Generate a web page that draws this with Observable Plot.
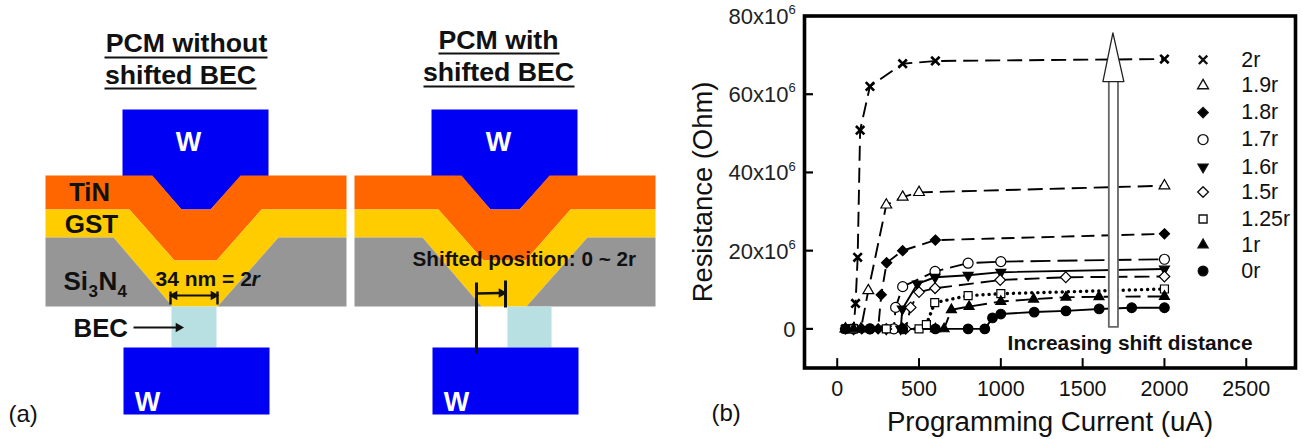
<!DOCTYPE html>
<html><head><meta charset="utf-8">
<script src="https://cdn.jsdelivr.net/npm/d3@7"></script>
<script src="https://cdn.jsdelivr.net/npm/@observablehq/plot@0.6"></script>
<style>
html,body{margin:0;padding:0;background:#fff}
#wrap{position:relative;width:1302px;height:439px;overflow:hidden}
#wrap svg{position:absolute;top:0;background:transparent}
</style></head><body><div id="wrap"></div>
<script>
// ---- Panel (b): programming current (uA) and resistance (1e6 Ohm) per shift
const I_2r=[50,100,112,125,140,200,400,600,2000];
const R_2r=[0,0.1,6.5,18.3,50.8,62,67.8,68.5,69];
const I_19r=[50,100,145,190,300,400,500,2000];
const R_19r=[0,0,0,9.8,31.7,33.7,34.9,36.6];
const I_18r=[50,150,250,269,302,400,600,2000];
const R_18r=[0,0,0,8.7,16.9,20,22.7,24.3];
const I_17r=[100,200,346,357,400,598,800,1000,2000];
const R_17r=[0,0,0,5.5,10.8,14.7,16.8,17.2,17.8];
const I_16r=[100,300,388,398,490,598,800,1000,2000];
const R_16r=[0,0,0,5.1,11.5,13.2,13.7,14.5,15.3];
const I_15r=[100,300,418,449,500,598,996,1397,2000];
const R_15r=[0,0,0,5.5,9.4,10.4,12.5,13.2,13.4];
const I_125r=[100,300,500,545,596,800,1000,2000];
const R_125r=[0,0,0,1.1,6.7,8.5,9,10.2];
const I_1r=[100,400,600,653,698,806,1000,1200,1398,1600,2000];
const R_1r=[0,0,0,0,4.9,5.7,7,7.6,8.1,8.2,8.3];
const I_0r=[50,200,400,600,800,902,949,1000,1204,1398,1601,1800,2000];
const R_0r=[0,0,0,0,0,0,2.8,3.8,4.3,4.6,5.1,5.4,5.4];
const seriesNames=["2r","1.9r","1.8r","1.7r","1.6r","1.5r","1.25r","1r","0r"];
const seriesX=[I_2r,I_19r,I_18r,I_17r,I_16r,I_15r,I_125r,I_1r,I_0r];
const seriesY=[R_2r,R_19r,R_18r,R_17r,R_16r,R_15r,R_125r,R_1r,R_0r];
const symbols=["times","triangle","diamond2","circle","triangle","diamond2","square","triangle","circle"];
const rotations=[0,0,0,0,180,0,0,0,0];
const fills=["none","#fff","#000","#fff","#000","#fff","#fff","#000","#000"];
const radii=[3.9,4,4.6,5,3.7,4.8,4.5,3.7,4.8];
const dashes=["15 7","15 7","13 7","20 7","none","15 7","0.1 6","15 7","none"];
const legendY=[68.8,62.2,55.3,48.4,41.4,35,28.1,21.5,14.8];
const xTicks=[0,500,1000,1500,2000,2500];
const yTicks=[0,20,40,60,80];
const shaftX=[1660,1660,1716,1716];
const shaftY=[63.2,0.5,0.5,63.2];
const headX=[1624,1685,1752,1624];
const headY=[63.2,75.7,63.2,63.2];

const table=seriesNames.map((name,i)=>seriesX[i].map((x,j)=>({name,x,y:seriesY[i][j]})));

const chart=Plot.plot({
  width:642,height:439,marginLeft:144,marginRight:7,marginTop:15.5,marginBottom:71.5,
  style:{fontFamily:"Liberation Sans",background:"transparent",color:"#000"},
  x:{domain:[-200,2801],axis:null},
  y:{domain:[-10,80],axis:null},
  marks:[
    Plot.ruleY(yTicks,{x1:-200,x2:-145,stroke:"#000",strokeWidth:2.2}),
    Plot.ruleX(xTicks,{y1:-10,y2:-7.6,stroke:"#000",strokeWidth:2}),
    ...table.map((rows,i)=>Plot.line(rows,{x:"x",y:"y",stroke:"#000",strokeWidth:i==6?3.4:1.9,strokeDasharray:dashes[i],strokeLinecap:i==6?"round":"butt"})),
    ...table.map((rows,i)=>Plot.dot(rows,{x:"x",y:"y",symbol:symbols[i],rotate:rotations[i],r:radii[i],fill:fills[i],stroke:"#000",strokeWidth:i==0?2.6:1.2})),
    Plot.line(shaftX.map((x,i)=>[x,shaftY[i]]),{x:d=>d[0],y:d=>d[1],fill:"#fff",stroke:"#666",strokeWidth:1.8}),
    Plot.line(headX.map((x,i)=>[x,headY[i]]),{x:d=>d[0],y:d=>d[1],fill:"#fff",stroke:"#222",strokeWidth:1.3}),
    Plot.frame({stroke:"#000",strokeWidth:3.6}),
    Plot.axisX({ticks:xTicks,tickSize:0,tickPadding:13,label:null,fontSize:21.5,fill:"#111",tickFormat:d=>String(d)}),
    Plot.text(yTicks.filter(d=>d!==0),{x:-200,y:d=>d,text:d=>`${d}x10`,dx:-16,dy:1,textAnchor:"end",fontSize:22,fill:"#222"}),
    Plot.text(yTicks.filter(d=>d!==0),{x:-200,y:d=>d,text:()=>"6",dx:-16,dy:-6,textAnchor:"start",fontSize:13,fill:"#222"}),
    Plot.text([0],{x:-200,y:d=>d,text:d=>String(d),dx:-9,dy:1,textAnchor:"end",fontSize:22,fill:"#222"}),
    Plot.text(["Increasing shift distance"],{x:1790,y:-3.8,fontWeight:"bold",fontSize:20.9,textAnchor:"middle",fill:"#111"}),
    ...seriesNames.map((n,i)=>Plot.dot([[2236,legendY[i]]],{x:d=>d[0],y:d=>d[1],symbol:symbols[i],rotate:rotations[i],r:radii[i],fill:fills[i],stroke:"#111",strokeWidth:i==0?2.4:1.4})),
    Plot.text(seriesNames,{x:2470,y:(d,i)=>legendY[i],text:d=>d,textAnchor:"start",fontSize:21.4,fill:"#111"}),
    Plot.text(["Programming Current (uA)"],{frameAnchor:"bottom",dy:62.5,lineAnchor:"bottom",textAnchor:"middle",fontSize:27.7,fill:"#111"}),
    Plot.text(["Resistance (Ohm)"],{frameAnchor:"left",rotate:-90,dx:-101,textAnchor:"middle",fontSize:27.4,fill:"#111"}),
    Plot.text(["(b)"],{frameAnchor:"bottom-left",dx:-93,dy:53,lineAnchor:"bottom",textAnchor:"start",fontSize:24,fill:"#111"})
  ]
});

// ---- Panel (a): schematic cross-sections, coordinates in schematic units
const shift=309;
const tinPoly=[[45,175],[152,175],[181,209],[210,209],[240,175],[346,175],[346,209],[261,209],[216,260],[174,260],[129,209],[45,209]];
const gstPoly=[[45,209],[129,209],[174,260],[216,260],[261,209],[346,209],[346,237],[278,237],[217,306],[172,306],[113,237],[45,237]];
const siLeftPoly=[[45,237],[113,237],[172,306],[45,306]];
const siRightPoly=[[278,237],[346,237],[346,306],[217,306]];
const topWPoly=[[122,109],[268,109],[268,176],[240,176],[210,209],[181,209],[152,176],[122,176]];
const botWPoly=[[123,347],[269,347],[269,414],[123,414]];
const becLeft=[[171,306],[216,306],[216,347],[171,347]];
const becRight=[[507,306],[551,306],[551,347],[507,347]];
const move=p=>p.map(([x,y])=>[x+shift,y]);
const polygons=[
 [topWPoly,"#0000f5"],[tinPoly,"#ff6600"],[gstPoly,"#ffcc00"],[siLeftPoly,"#969696"],[siRightPoly,"#969696"],[becLeft,"#b8e0e3"],[botWPoly,"#0000f5"],
 [move(topWPoly),"#0000f5"],[move(tinPoly),"#ff6600"],[move(gstPoly),"#ffcc00"],[move(siLeftPoly),"#969696"],[move(siRightPoly),"#969696"],[becRight,"#b8e0e3"],[move(botWPoly),"#0000f5"]
];
// segments: x1,y1,x2,y2,width
const segments=[
 [104,57,267,57,1.8],[104,88,256,88,1.8],[438,53,559,53,1.8],[423,86,574,86,1.8],
 [170,295,217,295,2.2],[170,291,170,304,2.4],[217,291,217,304,2.4],
 [133,327,176,327,2.2],
 [476,282,476,353,3],[505,280,505,307,3],[476,293,500,292.5,2.4]
];
const arrowHeads=[[174,295,-90],[213,295,90],[178,327,90],[501,292.5,90]];
// labels: text,x,y,size,bold,color,anchor,italic
const labels=[
 ["PCM without",186,51,26.7,1,"#111","middle"],["shifted BEC",180,83,26.7,1,"#111","middle"],
 ["PCM with",498,48,26.7,1,"#111","middle"],["shifted BEC",498,80,26.7,1,"#111","middle"],
 ["W",188,150,27,1,"#fff","middle"],["W",147,410,27,1,"#fff","middle"],["W",498,150,27,1,"#fff","middle"],["W",456,410,27,1,"#fff","middle"],
 ["TiN",89,200,25.6,1,"#111","middle"],["GST",91,232,26,1,"#111","middle"],
 ["Si",63,289,26,1,"#111","start"],["3",88,296,17,1,"#111","start"],["N",98,289,26,1,"#111","start"],["4",117,296,17,1,"#111","start"],
 ["34 nm = 2",155,285,21,1,"#111","start"],["r",251,285,21,1,"#111","start",1],
 ["BEC",73,336,25.8,1,"#111","start"],
 ["Shifted position: 0 ~ 2r",412,265,20.7,1,"#111","start"],
 ["(a)",8,421,24,0,"#111","start"]
];
const diagram=Plot.plot({
  width:660,height:439,margin:0,
  style:{fontFamily:"Liberation Sans",background:"transparent"},
  x:{domain:[0,660],range:[0,660],axis:null},
  y:{domain:[0,439],range:[0,439],axis:null},
  marks:[
    ...polygons.map(([pts,c])=>Plot.line(pts,{x:d=>d[0],y:d=>d[1],fill:c,stroke:"none"})),
    Plot.link(segments,{x1:d=>d[0],y1:d=>d[1],x2:d=>d[2],y2:d=>d[3],strokeWidth:d=>d[4],stroke:"#111",strokeLinecap:"butt"}),
    ...arrowHeads.map(a=>Plot.dot([a],{x:d=>d[0],y:d=>d[1],symbol:"triangle",rotate:a[2],r:3.6,fill:"#111"})),
    ...labels.map(l=>Plot.text([l],{x:d=>d[1],y:d=>d[2],text:d=>d[0],fontSize:l[3],fontWeight:l[4]?"bold":"normal",fill:l[5],textAnchor:l[6],lineAnchor:"bottom",fontStyle:l[7]?"italic":"normal"}))
  ]
});
diagram.style.left="0px";
chart.style.left="660px";
document.getElementById("wrap").append(diagram,chart);
</script></body></html>
